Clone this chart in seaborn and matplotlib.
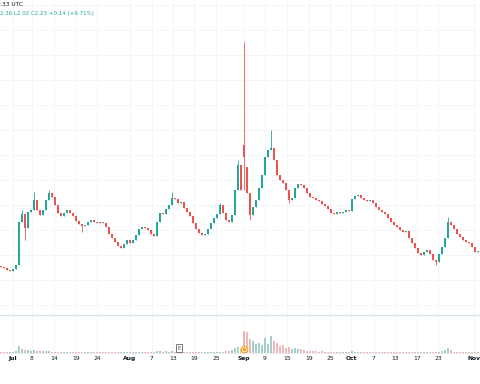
import matplotlib
matplotlib.use("Agg")
import matplotlib.pyplot as plt
import numpy as np
import pandas as pd
import seaborn as sns

# Candle closes left to right (one candle every ~3 px)
CLOSES = [
    1.26, 1.24, 1.20, 1.18, 1.22, 1.30, 2.16, 2.32, 2.04, 2.36,
    2.40, 2.60, 2.40, 2.30, 2.40, 2.60, 2.74, 2.66, 2.50, 2.34,
    2.28, 2.34, 2.40, 2.34, 2.28, 2.18, 2.12, 2.08, 2.10, 2.16,
    2.20, 2.16, 2.14, 2.16, 2.14, 2.06, 1.92, 1.84, 1.76, 1.68,
    1.64, 1.72, 1.80, 1.74, 1.80, 1.90, 2.02, 2.06, 2.04, 2.00,
    1.92, 1.88, 2.16, 2.34, 2.32, 2.42, 2.50, 2.64, 2.62, 2.54,
    2.56, 2.44, 2.36, 2.28, 2.14, 2.02, 1.94, 1.90, 1.92, 2.02,
    2.14, 2.24, 2.32, 2.50, 2.34, 2.20, 2.16, 2.30, 2.80, 3.30,
    2.80, 3.46, 2.74, 2.30, 2.46, 2.60, 2.84, 3.10, 3.46, 3.60,
    3.64, 3.40, 3.10, 3.00, 2.94, 2.80, 2.60, 2.64, 2.84, 2.92,
    2.90, 2.84, 2.74, 2.66, 2.64, 2.60, 2.58, 2.52, 2.48, 2.42,
    2.34, 2.32, 2.36, 2.34, 2.36, 2.40, 2.38, 2.62, 2.68, 2.70,
    2.64, 2.60, 2.58, 2.60, 2.54, 2.46, 2.40, 2.36, 2.32, 2.24,
    2.16, 2.10, 2.06, 2.00, 1.96, 1.98, 1.84, 1.74, 1.64, 1.54,
    1.50, 1.56, 1.60, 1.52, 1.40, 1.36, 1.52, 1.66, 1.84, 2.16,
    2.10, 2.02, 1.92, 1.86, 1.80, 1.76, 1.74, 1.66, 1.56, 1.58,
]
FIRST_OPEN = 1.28
# candles that did not open at the previous close
OPEN_OVERRIDE = {81: 3.70, 82: 3.26}
# visible wicks (index: price)
HIGHS = {7: 2.40, 11: 2.76, 16: 2.80, 57: 2.76, 73: 2.54, 79: 3.40,
         81: 5.76, 90: 4.00, 149: 2.26}
LOWS = {8: 1.80, 27: 1.96, 81: 2.80, 83: 2.20, 96: 2.54, 145: 1.30}

VOLUME = [
    1, 1, 1, 1, 1.5, 2, 7, 4, 3, 3,
    2, 3, 2, 2, 2, 2, 2.5, 1.5, 1, 1.5,
    1, 1, 1.5, 1, 1, 1, 1.5, 1, 1, 1,
    1, 1, 1, 1, 1, 1.5, 1, 1, 1, 1,
    1, 1, 1, 1, 1, 1, 1, 1, 1, 1,
    1, 1.5, 2, 2, 1.5, 2, 1.5, 2, 1.5, 1,
    1, 1, 1.5, 1, 1, 1, 1, 1.5, 1, 1,
    1, 1.5, 1, 1.5, 1, 2, 2, 3, 5, 6,
    4, 22, 21, 14, 12, 9, 10, 8, 15, 9,
    17, 12, 10, 7, 8, 5, 6, 4, 5, 4,
    4, 3, 2, 2, 2, 2, 1.5, 2, 1.5, 1.5,
    1.5, 1.5, 1, 1.5, 1, 1.5, 1, 2, 1.5, 1.5,
    1, 1, 1.5, 1, 1.5, 1, 1, 1, 1.5, 1,
    1, 1, 1.5, 1, 1, 1, 1.5, 1, 1, 1.5,
    1, 1, 1.5, 1, 1.5, 1, 1, 2, 3, 5,
    3, 1.5, 1, 1, 1.5, 1, 1, 1, 1, 1,
]

TICK_POS = [4.0, 10.3, 17.7, 25.0, 32.0, 43.0, 50.3, 57.3, 64.3, 71.7,
            81.0, 88.0, 95.3, 102.7, 109.7, 116.7, 124.3, 131.3, 138.7, 145.7, 157.6]
TICK_LABELS = ["Jul", "8", "14", "19", "24", "Aug", "7", "13", "19", "25",
               "Sep", "9", "15", "19", "25", "Oct", "7", "13", "17", "23", "Nov"]
MONTHS = {"Jul", "Aug", "Sep", "Oct", "Nov"}

UP = "#26a69a"
DOWN = "#ef5350"
GRID = "#f2f4f9"

sns.set_theme(style="white")
plt.rcParams["font.family"] = ["DejaVu Sans"]

n = len(CLOSES)
idx = np.arange(n)
closes = np.array(CLOSES)
opens = np.concatenate([[FIRST_OPEN], closes[:-1]])
for k, v in OPEN_OVERRIDE.items():
    opens[k] = v
highs = np.maximum(opens, closes)
lows = np.minimum(opens, closes)
for k, v in HIGHS.items():
    highs[k] = v
for k, v in LOWS.items():
    lows[k] = v

df = pd.DataFrame({"i": idx, "open": opens, "close": closes, "high": highs,
                   "low": lows, "volume": VOLUME})
df["dir"] = np.where(df["close"] >= df["open"], "up", "down")
colors = df["dir"].map({"up": UP, "down": DOWN})

W, H = 480, 384
fig = plt.figure(figsize=(W / 100, H / 100), dpi=100)
ax = fig.add_axes([0, 1 - 315 / H, 1, 315 / H])
vax = fig.add_axes([0, (H - 353) / H, 1, 38 / H], sharex=ax)

# price pane
ax.vlines(df["i"], df["low"], df["high"], colors=colors, linewidth=0.6, zorder=2)
body_h = (df["close"] - df["open"]).abs().clip(lower=0.012)
ax.bar(df["i"], body_h, bottom=np.minimum(df["open"], df["close"]),
       width=0.55, color=colors, linewidth=0, zorder=3)
ax.set_xlim(-0.3, 159.7)
ax.set_ylim(0.30, 6.60)
ax.set_yticks(np.arange(0.5, 6.6, 0.5))
ax.set_xticks(TICK_POS)
ax.grid(True, color=GRID, linewidth=0.6)
ax.tick_params(left=False, bottom=False, labelleft=False, labelbottom=False)
for s in ax.spines.values():
    s.set_visible(False)

# volume pane
sns.barplot(data=df, x="i", y="volume", hue="dir",
            palette={"up": UP, "down": DOWN}, native_scale=True,
            width=0.6, alpha=0.45, legend=False, ax=vax, linewidth=0)
vax.set_ylim(0, 38)
vax.set_xlim(-0.3, 159.7)
vax.set_xlabel("")
vax.set_ylabel("")
vax.set_yticks([])
vax.set_xticks(TICK_POS)
vax.set_xticklabels(TICK_LABELS)
vax.grid(True, axis="x", color=GRID, linewidth=0.6)
vax.tick_params(axis="x", length=0, pad=2, labelsize=4.3, colors="#131722")
for lab in vax.get_xticklabels():
    if lab.get_text() in MONTHS:
        lab.set_fontweight("bold")
for name, s in vax.spines.items():
    s.set_visible(False)
vax.spines["top"].set_visible(True)
vax.spines["top"].set_color("#d6e4ea")
vax.spines["top"].set_linewidth(0.8)
vax.spines["bottom"].set_visible(True)
vax.spines["bottom"].set_color("#e0e3eb")
vax.spines["bottom"].set_linewidth(0.5)

# event markers on the volume pane
vax.text(59.3, 5, "E", fontsize=3.5, ha="center", va="center", color="#434651",
         bbox=dict(boxstyle="square,pad=0.25", fc="white", ec="#434651", lw=0.5))
vax.scatter([81], [4], s=22, facecolor="#fff3d6", edgecolor="#f5a623", linewidth=0.8, zorder=5)
vax.scatter([81], [4], s=3, color="#f5a623", zorder=6)

# header legend
fig.text(0.0, 1 - 4 / H, ":33 UTC", fontsize=4.2, color="#131722", va="center", ha="left")
fig.text(0.0, 1 - 13.5 / H, "2.36 L2.02 C2.23 +0.14 (+6.71%)", fontsize=4.0,
         color=UP, va="center", ha="left")

fig.savefig("out.png", dpi=100)
